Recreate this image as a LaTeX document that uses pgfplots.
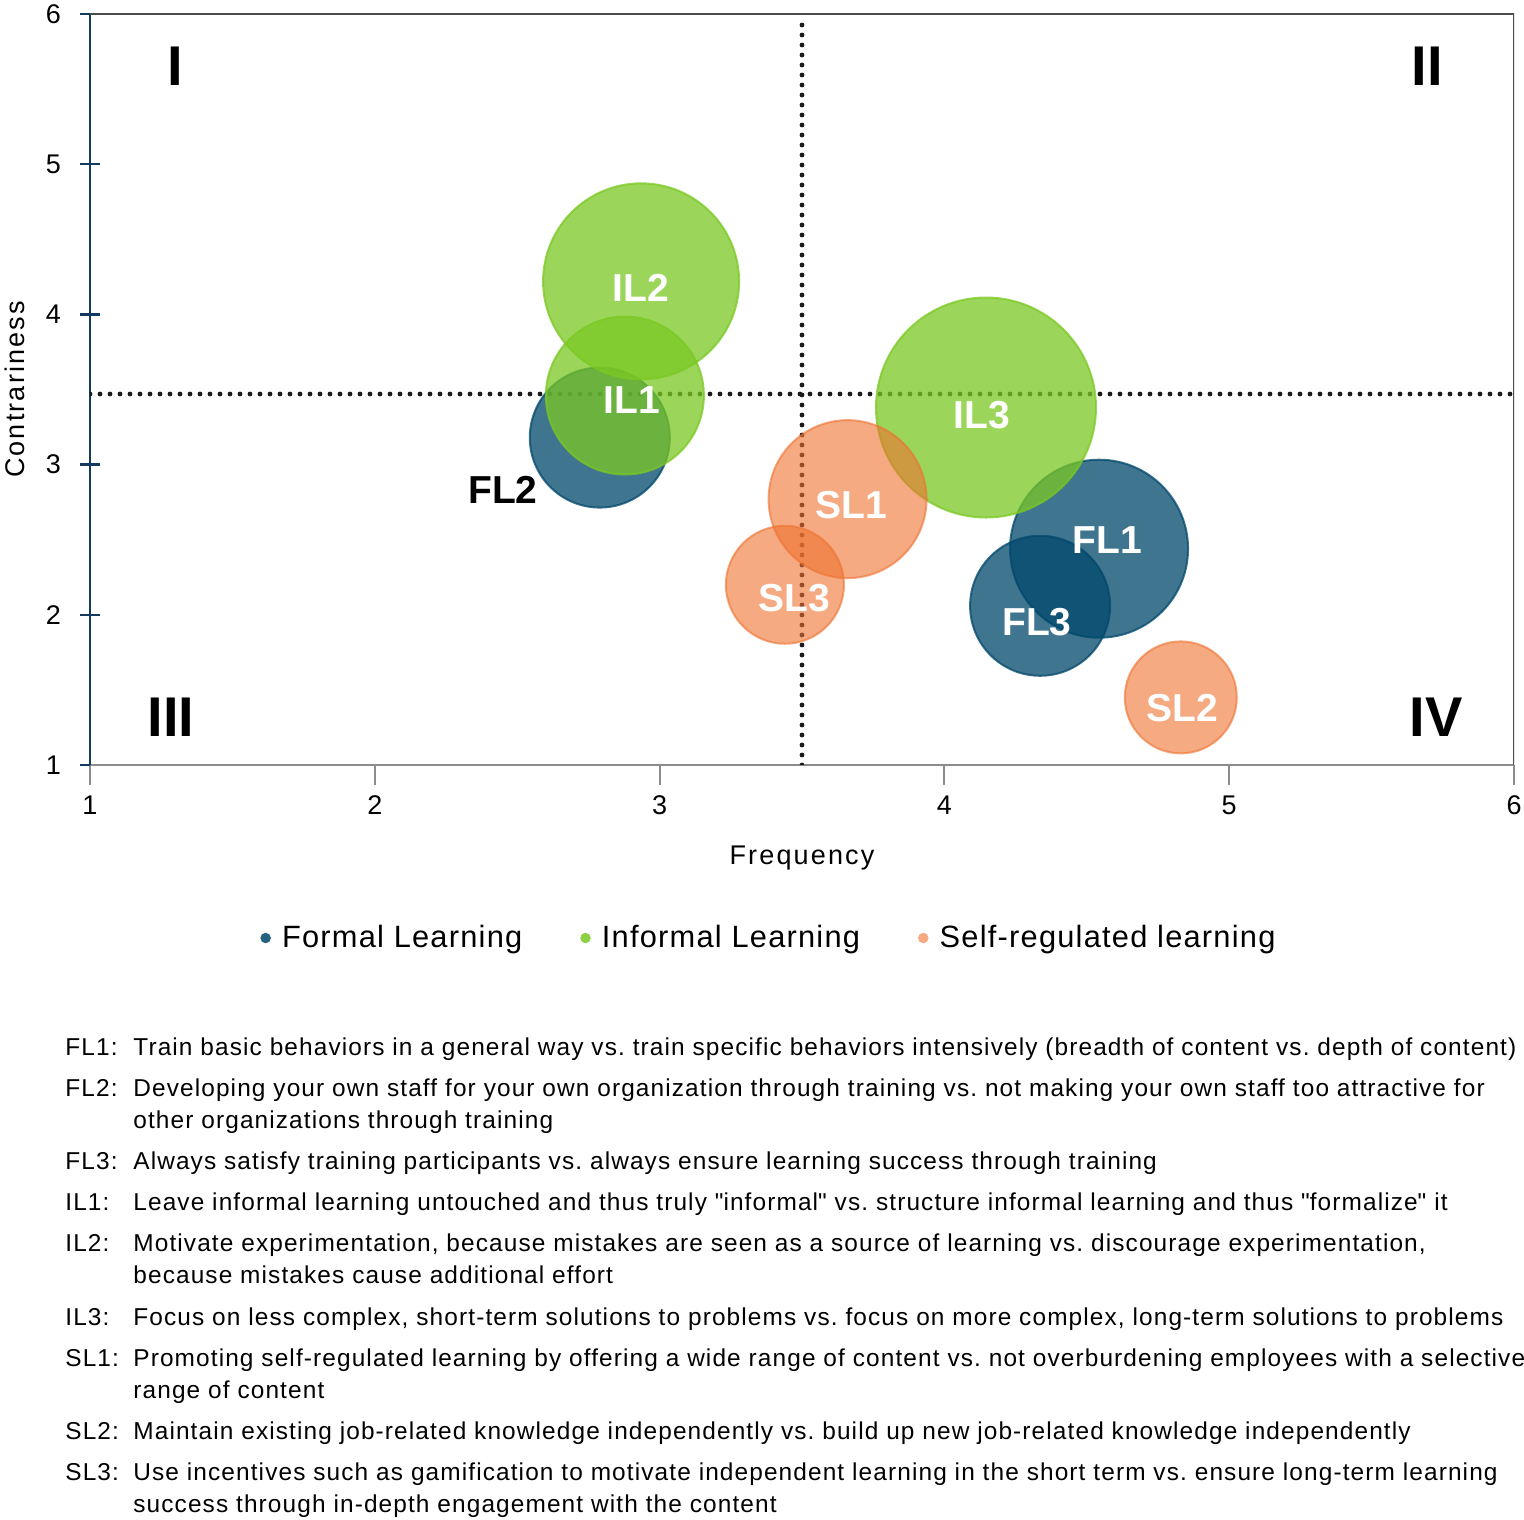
\documentclass[border=0pt]{standalone}
\usepackage{fontspec}
\setmainfont{Liberation Sans}
\newfontfamily\labfont{Liberation Sans}[LetterSpace=8]
\newfontfamily\legfont{Liberation Sans}[LetterSpace=4]
\newfontfamily\descfont{Liberation Sans}[LetterSpace=4.6]
\usepackage{pgfplots}
\pgfplotsset{compat=1.18}
\usepackage{pgfplotstable}
\frenchspacing

\definecolor{fl}{HTML}{00476B}
\definecolor{il}{HTML}{7AC823}
\definecolor{sl}{HTML}{EE712F}
\definecolor{navy}{HTML}{123A5E}

% bubble centres (Frequency, Contrariness) and radius (pt)
\pgfplotstableread{
x y r
4.543 2.44 44.5
2.79 3.18 35
4.336 2.06 35
}\formal
\pgfplotstableread{
x y r
2.878 3.46 39.5
2.935 4.22 49
4.146 3.38 55
}\informal
\pgfplotstableread{
x y r
3.66 2.77 39.5
4.83 1.45 28
3.44 2.20 29.5
}\selfreg
\pgfplotstableread{
x y lab
4.571 2.498 FL1
4.325 1.952 FL3
2.903 3.43 IL1
2.935 4.176 IL2
4.132 3.33 IL3
3.672 2.73 SL1
4.834 1.38 SL2
3.472 2.11 SL3
}\whitelabels
\pgfplotstableread{
x y lab
2.45 2.83 FL2
}\blacklabels

\newcommand\itlab[1]{\makebox[34pt][l]{#1}}

\begin{document}
\begin{tikzpicture}
\begin{axis}[
  width=712pt, height=375.5pt, scale only axis,
  xmin=1, xmax=6, ymin=1, ymax=6,
  xtick={1,2,3,4,5,6}, ytick={1,2,3,4,5,6},
  axis x line=bottom, axis y line=left,
  x axis line style={draw=black!45, line width=1pt, -},
  y axis line style={draw=navy, line width=1.3pt, -},
  major tick length=10pt,
  xtick align=outside, ytick align=center,
  xtick style={draw=black!45, line width=1pt},
  ytick style={draw=navy, line width=1.2pt},
  /pgf/number format/assume math mode=true,
  tick label style={font=\fontsize{13.5}{16}\selectfont},
  xticklabel shift=2pt, yticklabel shift=6pt,
  xlabel={Frequency}, ylabel={Contrariness},
  xlabel style={font=\labfont\fontsize{13.5}{16}\selectfont, at={(axis description cs:0.5,0)}, anchor=center, yshift=-46.5pt},
  ylabel style={font=\labfont\fontsize{13.5}{16}\selectfont, at={(axis description cs:-0.0527,0.5)}, anchor=center, rotate=0},
  legend style={at={(axis description cs:0.4775,-0.2304)}, anchor=center, draw=none, fill=none,
    legend columns=3, font=\legfont\fontsize{15.4}{18}\selectfont,
    /tikz/every even column/.append style={column sep=27pt}},
  legend cell align=left,
]
\addplot[black!90, line width=2.4pt, dash pattern=on 0pt off 5pt, line cap=round, forget plot] coordinates {(3.5,1) (3.5,5.96)};
\addplot[black!90, line width=2.4pt, dash pattern=on 0pt off 5pt, line cap=round, forget plot] coordinates {(1,3.47) (6,3.47)};

\addplot[scatter, only marks, mark=*,
  scatter/use mapped color={draw=fl, fill=fl},
  mark options={fill opacity=0.75, draw opacity=0.75, line width=1pt},
  visualization depends on={\thisrow{r}\as\rad},
  scatter/@pre marker code/.append style={/tikz/mark size=\rad},
  legend image code/.code={\fill[fl!85!white, opacity=1] (0pt,0pt) circle (2.4pt); \path (6pt,0pt);},
] table[x=x,y=y] {\formal};
\addlegendentry{Formal Learning}

\addplot[scatter, only marks, mark=*,
  scatter/use mapped color={draw=il, fill=il},
  mark options={fill opacity=0.75, draw opacity=0.75, line width=1pt},
  visualization depends on={\thisrow{r}\as\rad},
  scatter/@pre marker code/.append style={/tikz/mark size=\rad},
  legend image code/.code={\fill[il!85!white, opacity=1] (0pt,0pt) circle (2.4pt); \path (6pt,0pt);},
] table[x=x,y=y] {\informal};
\addlegendentry{Informal Learning}

\addplot[scatter, only marks, mark=*,
  scatter/use mapped color={draw=sl, fill=sl},
  mark options={fill opacity=0.6, draw opacity=0.6, line width=1pt},
  visualization depends on={\thisrow{r}\as\rad},
  scatter/@pre marker code/.append style={/tikz/mark size=\rad},
  legend image code/.code={\fill[sl!60!white, opacity=1] (0pt,0pt) circle (2.4pt); \path (6pt,0pt);},
] table[x=x,y=y] {\selfreg};
\addlegendentry{Self-regulated learning}

\addplot[draw=none, mark=none, forget plot, point meta=explicit symbolic,
  nodes near coords,
  every node near coord/.append style={anchor=center, text=white, inner sep=0pt, font=\bfseries\fontsize{19.5}{20}\selectfont}]
  table[x=x,y=y,meta=lab] {\whitelabels};
\addplot[draw=none, mark=none, forget plot, point meta=explicit symbolic,
  nodes near coords,
  every node near coord/.append style={anchor=center, text=black, inner sep=0pt, font=\bfseries\fontsize{19.5}{20}\selectfont}]
  table[x=x,y=y,meta=lab] {\blacklabels};

\draw[black!70, line width=1pt] (rel axis cs:0,1) -- (rel axis cs:1,1) -- (rel axis cs:1,0);

\node[font=\bfseries\fontsize{28}{30}\selectfont, inner sep=0pt] at (axis cs:1.30,5.65) {I};
\node[font=\bfseries\fontsize{28}{30}\selectfont, inner sep=0pt] at (axis cs:5.695,5.65) {II};
\node[font=\bfseries\fontsize{28}{30}\selectfont, inner sep=0pt] at (axis cs:1.285,1.32) {III};
\node[font=\bfseries\fontsize{28}{30}\selectfont, inner sep=0pt] at (axis cs:5.726,1.32) {IV};
\end{axis}

\node[anchor=base west, inner sep=0pt, font=\descfont\fontsize{12.2}{16}\selectfont] at (-12.5pt,-145pt) {%
\begin{tabular}[t]{@{}l@{}l@{}}
\itlab{FL1:} & Train basic behaviors in a general way vs. train specific behaviors intensively (breadth of content vs. depth of content)\\[4.6pt]
\itlab{FL2:} & Developing your own staff for your own organization through training vs. not making your own staff too attractive for\\
 & other organizations through training\\[4.6pt]
\itlab{FL3:} & Always satisfy training participants vs. always ensure learning success through training\\[4.6pt]
\itlab{IL1:} & Leave informal learning untouched and thus truly \textquotedbl informal\textquotedbl\ vs. structure informal learning and thus \textquotedbl formalize\textquotedbl\ it\\[4.6pt]
\itlab{IL2:} & Motivate experimentation, because mistakes are seen as a source of learning vs. discourage experimentation,\\
 & because mistakes cause additional effort\\[4.6pt]
\itlab{IL3:} & Focus on less complex, short-term solutions to problems vs. focus on more complex, long-term solutions to problems\\[4.6pt]
\itlab{SL1:} & Promoting self-regulated learning by offering a wide range of content vs. not overburdening employees with a selective\\
 & range of content\\[4.6pt]
\itlab{SL2:} & Maintain existing job-related knowledge independently vs. build up new job-related knowledge independently\\[4.6pt]
\itlab{SL3:} & Use incentives such as gamification to motivate independent learning in the short term vs. ensure long-term learning\\
 & success through in-depth engagement with the content
\end{tabular}};

\pgfresetboundingbox
\path[use as bounding box] (-45pt,-377pt) rectangle (717pt,382.5pt);
\end{tikzpicture}
\end{document}
